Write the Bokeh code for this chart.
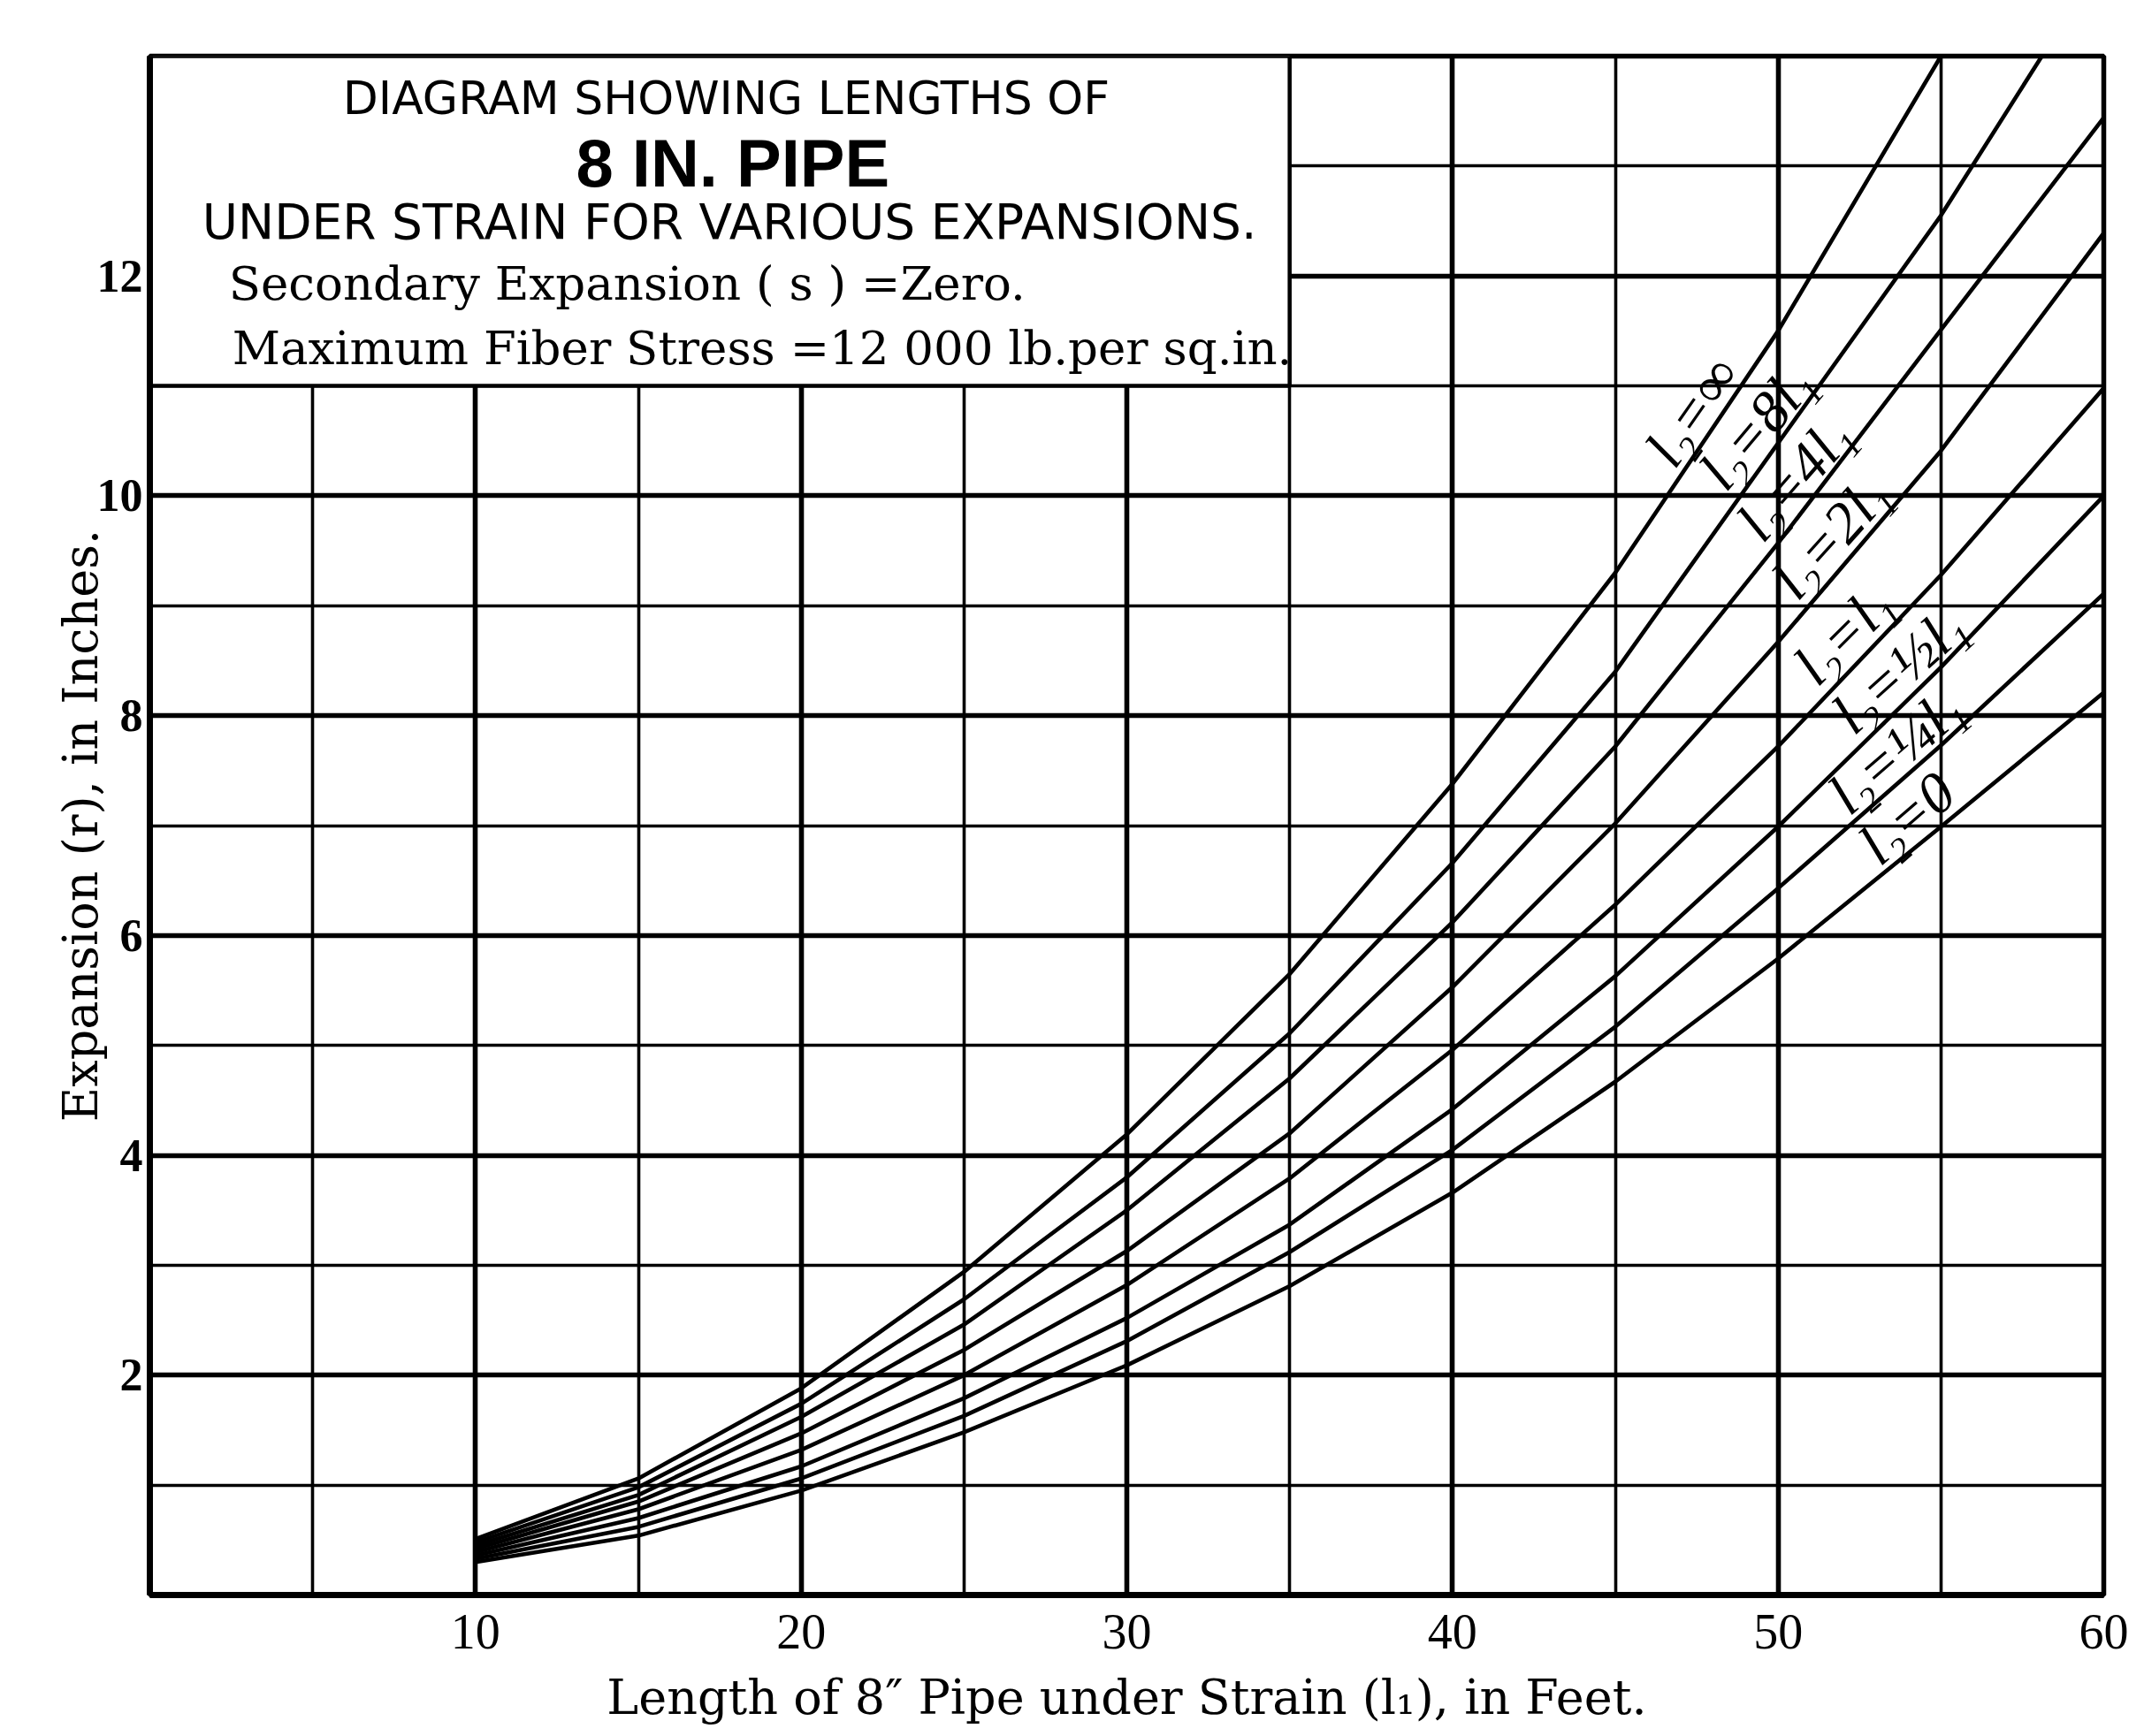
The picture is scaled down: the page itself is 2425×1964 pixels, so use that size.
import math
from bokeh.plotting import figure
from bokeh.models import FixedTicker, Label, Range1d
from bokeh.embed import file_html
from bokeh.resources import INLINE
from bokeh.core.properties import value

# ---------------- data ----------------
curve_names = ["l₂=∞", "l₂=8l₁", "l₂=4l₁", "l₂=2l₁", "l₂=l₁", "l₂=½l₁", "l₂=¼l₁", "l₂=0"]

x_inf = [10, 15, 20, 25, 30, 35, 40, 45, 50, 55]
y_inf = [0.51, 1.06, 1.88, 2.94, 4.19, 5.65, 7.38, 9.30, 11.50, 14.0]

x_8 = [10, 15, 20, 25, 30, 35, 40, 45, 50, 55, 58.1]
y_8 = [0.48, 0.98, 1.74, 2.69, 3.80, 5.11, 6.66, 8.40, 10.48, 12.55, 14.0]

x_full = [10, 15, 20, 25, 30, 35, 40, 45, 50, 55, 60]
y_4 = [0.45, 0.91, 1.62, 2.46, 3.50, 4.70, 6.12, 7.72, 9.57, 11.51, 13.44]
y_2 = [0.42, 0.85, 1.47, 2.23, 3.13, 4.20, 5.53, 7.02, 8.67, 10.41, 12.39]
y_1 = [0.39, 0.78, 1.32, 2.00, 2.82, 3.79, 4.96, 6.28, 7.72, 9.28, 10.98]
y_half = [0.36, 0.70, 1.17, 1.79, 2.52, 3.37, 4.42, 5.63, 6.99, 8.44, 10.00]
y_quarter = [0.33, 0.62, 1.06, 1.63, 2.31, 3.12, 4.05, 5.17, 6.43, 7.73, 9.11]
y_zero = [0.30, 0.54, 0.95, 1.48, 2.09, 2.81, 3.66, 4.67, 5.79, 6.99, 8.21]

x_ticks = [10, 20, 30, 40, 50, 60]
y_ticks = [2, 4, 6, 8, 10, 12]
x_grid_major = [10, 20, 30, 40, 50]
x_grid_minor = [5, 15, 25, 35, 45, 55]
y_grid_major = [2, 4, 6, 8, 10, 12]
y_grid_minor = [1, 3, 5, 7, 9, 11, 13]

# curve label anchors (data units) and rotation (degrees)
label_x = [47.36, 49.33, 50.5, 51.6, 52.0, 53.7, 53.6, 53.95]
label_y = [10.77, 10.63, 10.16, 9.63, 8.74, 8.42, 7.68, 7.07]
label_angle_deg = [55, 50, 49, 48, 45, 42, 41, 41]

# title box extent (data units)
box_left, box_right, box_bottom, box_top = 0, 35, 11, 14

title_lines = [
    "DIAGRAM SHOWING LENGTHS OF",
    "8 IN. PIPE",
    "UNDER STRAIN FOR VARIOUS EXPANSIONS.",
    "Secondary Expansion ( s ) =Zero.",
    "Maximum Fiber Stress =12 000 lb.per sq.in.",
]

# ---------------- figure ----------------
p = figure(width=2420, height=1960, output_backend="svg", toolbar_location=None,
           x_range=Range1d(0, 60), y_range=Range1d(0, 14),
           min_border_left=169, min_border_right=41, min_border_top=63,
           min_border_bottom=156)
p.background_fill_color = "white"
p.border_fill_color = "white"
p.outline_line_color = "black"
p.outline_line_width = 5.5
p.outline_line_alpha = 1.0

# grids
p.xgrid.ticker = FixedTicker(ticks=x_grid_major, minor_ticks=x_grid_minor)
p.ygrid.ticker = FixedTicker(ticks=y_grid_major, minor_ticks=y_grid_minor)
for g in (p.xgrid, p.ygrid):
    g.grid_line_color = "black"
    g.grid_line_alpha = 1.0
    g.grid_line_width = 5.6
    g.minor_grid_line_color = "black"
    g.minor_grid_line_alpha = 1.0
    g.minor_grid_line_width = 3.6

# axes
p.xaxis.ticker = FixedTicker(ticks=x_ticks)
p.yaxis.ticker = FixedTicker(ticks=y_ticks)
for ax in (p.xaxis, p.yaxis):
    ax.major_tick_out = 0
    ax.major_tick_in = 0
    ax.minor_tick_out = 0
    ax.minor_tick_in = 0
    ax.axis_line_color = "black"
    ax.axis_line_width = 7
    ax.major_label_text_color = "black"
    ax.major_label_text_font = "Liberation Serif"
    ax.axis_label_text_color = "black"
    ax.axis_label_text_font = "DejaVu Serif"
    ax.axis_label_text_font_style = "normal"

p.xaxis.major_label_text_font_size = "56px"
p.xaxis.major_label_standoff = 22
p.xaxis.axis_label = "Length of 8″ Pipe under Strain (l₁), in Feet."
p.xaxis.axis_label_text_font_size = "54px"
p.xaxis.axis_label_standoff = 21

p.yaxis.major_label_text_font_size = "52px"
p.yaxis.major_label_text_font_style = "bold"
p.yaxis.major_label_standoff = 8
p.yaxis.major_label_orientation = "horizontal"
p.yaxis.axis_label = "Expansion (r), in Inches."
p.yaxis.axis_label_text_font_size = "54px"
p.yaxis.axis_label_standoff = -16

# title box (white, covers the grid)
p.quad(left=[box_left], right=[box_right], bottom=[box_bottom], top=[box_top],
       fill_color="white", line_color="black", line_width=4.5)

# curves
series = [(x_inf, y_inf), (x_8, y_8), (x_full, y_4), (x_full, y_2),
          (x_full, y_1), (x_full, y_half), (x_full, y_quarter), (x_full, y_zero)]
for xs, ys in series:
    p.line(xs, ys, line_color="black", line_width=4.6)

# curve labels
p.text(x=label_x, y=label_y, text=curve_names,
       angle=[math.radians(a) for a in label_angle_deg],
       text_font=value("Liberation Serif"), text_font_style="italic",
       text_font_size="66px", text_align="center", text_baseline="middle",
       text_color="black")

# title texts
p.add_layout(Label(x=17.7, y=13.62, text=title_lines[0], text_font="DejaVu Sans",
                   text_font_size="52px", text_align="center",
                   text_baseline="alphabetic", text_color="black"))
p.add_layout(Label(x=17.9, y=13.03, text=title_lines[1], text_font="Liberation Sans",
                   text_font_style="bold", text_font_size="76px", text_align="center",
                   text_baseline="alphabetic", text_color="black"))
p.add_layout(Label(x=17.8, y=12.49, text=title_lines[2], text_font="DejaVu Sans",
                   text_font_size="55px", text_align="center",
                   text_baseline="alphabetic", text_color="black"))
p.add_layout(Label(x=2.42, y=11.93, text=title_lines[3], text_font="DejaVu Serif",
                   text_font_size="53px", text_align="left",
                   text_baseline="alphabetic", text_color="black"))
p.add_layout(Label(x=2.53, y=11.35, text=title_lines[4], text_font="DejaVu Serif",
                   text_font_size="53px", text_align="left",
                   text_baseline="alphabetic", text_color="black"))

open("out.html", "w").write(file_html(p, INLINE))
